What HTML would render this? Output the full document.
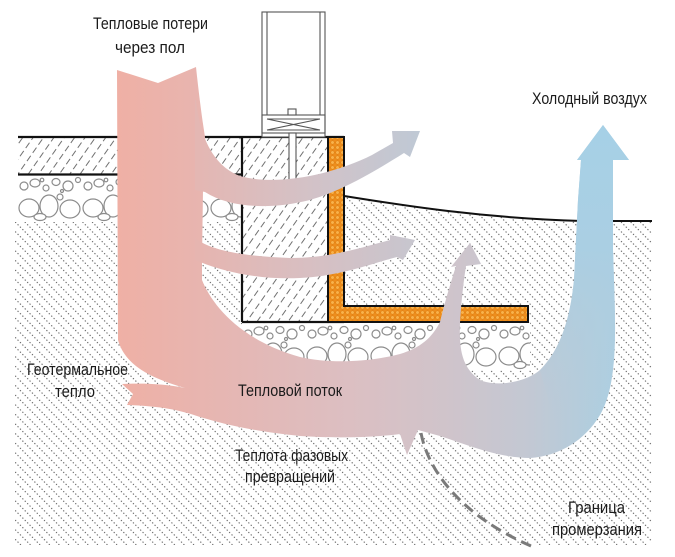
<!DOCTYPE html>
<html><head><meta charset="utf-8"><style>
html,body{margin:0;padding:0;background:#fff;}
svg{display:block;}
</style></head><body>
<svg width="675" height="557" viewBox="0 0 675 557" xmlns="http://www.w3.org/2000/svg">
<defs>
 <pattern id="soil" patternUnits="userSpaceOnUse" width="6.8" height="3.4" patternTransform="rotate(-45)">
   <circle cx="3.4" cy="1.7" r="0.6" fill="#444"/>
 </pattern>
 <pattern id="conc" patternUnits="userSpaceOnUse" width="8.5" height="10" patternTransform="rotate(35)">
   <line x1="4" y1="0" x2="4" y2="6.5" stroke="#707070" stroke-width="1"/>
 </pattern>
 <pattern id="ins" patternUnits="userSpaceOnUse" width="5" height="5">
   <rect width="5" height="5" fill="#ee8e1c"/>
   <circle cx="2.5" cy="2.5" r="1.8" fill="#f9b24a" stroke="#d8780e" stroke-width="0.5"/>
 </pattern>
 <pattern id="st1" patternUnits="userSpaceOnUse" x="18" y="176" width="64" height="46">
  <g stroke="#8c8c8c" stroke-width="1.2" fill="#fff">
   <circle cx="6" cy="10" r="4"/><ellipse cx="17" cy="7" rx="5" ry="4"/><circle cx="28" cy="12" r="3"/>
   <ellipse cx="38" cy="6" rx="4" ry="3.5"/><circle cx="50" cy="10" r="5"/><circle cx="60" cy="4" r="2.5"/>
   <circle cx="24" cy="4" r="1.8"/><circle cx="44" cy="15" r="1.5"/>
   <ellipse cx="11" cy="32" rx="10" ry="9"/><ellipse cx="31" cy="30" rx="9" ry="11"/><ellipse cx="52" cy="33" rx="10" ry="9"/>
   <ellipse cx="22" cy="41" rx="6" ry="3.5"/><circle cx="42" cy="21" r="3"/>
  </g>
 </pattern>
 <pattern id="st2" patternUnits="userSpaceOnUse" x="242" y="324" width="64" height="46">
  <g stroke="#8c8c8c" stroke-width="1.2" fill="#fff">
   <circle cx="6" cy="10" r="4"/><ellipse cx="17" cy="7" rx="5" ry="4"/><circle cx="28" cy="12" r="3"/>
   <ellipse cx="38" cy="6" rx="4" ry="3.5"/><circle cx="50" cy="10" r="5"/><circle cx="60" cy="4" r="2.5"/>
   <circle cx="24" cy="4" r="1.8"/><circle cx="44" cy="15" r="1.5"/>
   <ellipse cx="11" cy="32" rx="10" ry="9"/><ellipse cx="31" cy="30" rx="9" ry="11"/><ellipse cx="52" cy="33" rx="10" ry="9"/>
   <ellipse cx="22" cy="41" rx="6" ry="3.5"/><circle cx="42" cy="21" r="3"/>
  </g>
 </pattern>
 <linearGradient id="gMain" gradientUnits="userSpaceOnUse" x1="118" y1="0" x2="630" y2="0">
  <stop offset="0" stop-color="#efb0a5"/>
  <stop offset="0.2" stop-color="#e6b6b2"/>
  <stop offset="0.45" stop-color="#dcbfc2"/>
  <stop offset="0.65" stop-color="#cfc4cb"/>
  <stop offset="0.8" stop-color="#c3c8d3"/>
  <stop offset="0.92" stop-color="#b2cddd"/>
  <stop offset="1" stop-color="#a7d0e6"/>
 </linearGradient>
 <linearGradient id="gB1" gradientUnits="userSpaceOnUse" x1="200" y1="0" x2="420" y2="0">
  <stop offset="0" stop-color="#e4b7b3"/>
  <stop offset="0.5" stop-color="#d3c2c7"/>
  <stop offset="1" stop-color="#bfc9d5"/>
 </linearGradient>
 <linearGradient id="gB2" gradientUnits="userSpaceOnUse" x1="200" y1="0" x2="415" y2="0">
  <stop offset="0" stop-color="#e6b5b0"/>
  <stop offset="0.5" stop-color="#d8bfc2"/>
  <stop offset="1" stop-color="#c7c6cf"/>
 </linearGradient>
 <linearGradient id="gBlue" gradientUnits="userSpaceOnUse" x1="0" y1="125" x2="0" y2="430">
  <stop offset="0" stop-color="#a6d0e6" stop-opacity="1"/>
  <stop offset="0.4" stop-color="#aacfe3" stop-opacity="1"/>
  <stop offset="1" stop-color="#b8cbd9" stop-opacity="0"/>
 </linearGradient>
</defs>

<rect width="675" height="557" fill="#fff"/>

<!-- soil -->
<path d="M15,222 H345 V196 C400,205 480,218 582,221 H652 V545 H15 Z" fill="url(#soil)"/>

<!-- concrete slab & foundation -->
<rect x="18" y="137" width="224" height="37" fill="#fff"/>
<rect x="18" y="137" width="224" height="37" fill="url(#conc)"/>
<rect x="242" y="137" width="86" height="185" fill="#fff"/>
<rect x="242" y="137" width="86" height="185" fill="url(#conc)"/>

<!-- stones -->
<rect x="18" y="175" width="224" height="47" fill="#fff"/>
<rect x="18" y="175" width="224" height="47" fill="url(#st1)"/>
<rect x="242" y="323" width="288" height="47" fill="#fff"/>
<rect x="242" y="323" width="288" height="47" fill="url(#st2)"/>

<!-- lines -->
<g stroke="#111" stroke-width="2.2" fill="none">
 <line x1="18" y1="137" x2="344" y2="137"/>
 <line x1="18" y1="174.5" x2="242" y2="174.5"/>
 <line x1="242" y1="137" x2="242" y2="322"/>
 <line x1="242" y1="322" x2="344" y2="322"/>
</g>

<!-- insulation -->
<path d="M328,137 H344 V306 H528 V322 H328 Z" fill="url(#ins)" stroke="#111" stroke-width="2"/>

<!-- ground line -->
<path d="M344,196 C400,205 480,218 582,221 H652" fill="none" stroke="#111" stroke-width="2"/>

<!-- post -->
<g stroke="#555" stroke-width="1.1" fill="none">
 <rect x="262" y="12" width="63" height="125" fill="#fff"/>
 <line x1="267" y1="12" x2="267" y2="115"/>
 <line x1="320" y1="12" x2="320" y2="115"/>
 <rect x="262" y="115" width="63" height="18"/>
 <line x1="267" y1="119" x2="320" y2="119"/>
 <line x1="267" y1="130" x2="320" y2="130"/>
 <line x1="267" y1="119" x2="320" y2="130"/>
 <line x1="267" y1="130" x2="320" y2="119"/>
 <rect x="288" y="109" width="8" height="6" fill="#fff"/>
 <rect x="289" y="133" width="7" height="52" fill="#fff"/>
</g>

<!-- freezing boundary -->
<path d="M421,433 C428,470 460,515 531,546" fill="none" stroke="#7a7a7a" stroke-width="3" stroke-dasharray="11 6"/>

<!-- main heat flow -->
<path fill="url(#gMain)" d="M117,70 L158,83 L196,67 C199,95 202,118 205,137 L203,190 L202,260 L202,280
 C212,305 240,340 300,357 C330,364 370,362 400,354 C420,348 432,338 440,322
 C444,305 450,285 456,266 L451,267 L470,243 L481,264 L466,266 C463,285 461,305 460,323
 C459,350 462,368 480,380 C495,387 525,383 540,370 C560,350 570,320 574,280 L578,200 L581,160 L577,160 L603,125 L629,160 L613,160 L613,250
 C615,320 620,380 600,415 C585,440 560,456 530,458 C500,458 470,446 440,436 L418,430 L407,455 L400,434
 C370,438 330,438 300,436 C260,432 230,426 200,417 C180,410 160,406 127,405 L133,394 L122,384
 C145,383 165,384 185,388 C150,378 125,365 118,340 Z"/>

<!-- blue arm overlay -->
<path fill="url(#gBlue)" d="M581,160 L577,160 L603,125 L629,160 L613,160 L613,250 C615,320 620,380 600,415 L560,440 L540,370 C560,350 570,320 574,280 L578,200 Z"/>

<!-- upper branch -->
<path fill="url(#gB1)" d="M196,100 C199,130 210,165 240,176 C275,186 330,176 372,155 L393,143 L392,131 L420,131 L410,157 L404,153 C380,168 345,190 310,200 C270,210 230,208 205,192 L195,190 L195,100 Z"/>

<!-- lower branch -->
<path fill="url(#gB2)" d="M195,238 C210,250 240,256 290,258 C330,258 360,248 390,240 L390,235 L415,240 L403,260 L397,257 C370,264 340,276 300,278 C260,280 225,272 200,262 L195,260 Z"/>

<!-- labels -->
<g font-family="'Liberation Sans', 'Noto Sans CJK SC', sans-serif" font-size="17" fill="#1a1a1a">
 <text x="93" y="29" textLength="115" lengthAdjust="spacingAndGlyphs">Тепловые потери</text>
 <text x="115" y="53" textLength="70" lengthAdjust="spacingAndGlyphs">через пол</text>
 <text x="532" y="104" textLength="115" lengthAdjust="spacingAndGlyphs">Холодный воздух</text>
 <text x="27" y="375" textLength="101" lengthAdjust="spacingAndGlyphs">Геотермальное</text>
 <text x="55" y="397" textLength="40" lengthAdjust="spacingAndGlyphs">тепло</text>
 <text x="238" y="396" textLength="104" lengthAdjust="spacingAndGlyphs">Тепловой поток</text>
 <text x="235" y="461" textLength="113" lengthAdjust="spacingAndGlyphs">Теплота фазовых</text>
 <text x="245" y="482" textLength="90" lengthAdjust="spacingAndGlyphs">превращений</text>
 <text x="568" y="513" textLength="57" lengthAdjust="spacingAndGlyphs">Граница</text>
 <text x="552" y="535" textLength="90" lengthAdjust="spacingAndGlyphs">промерзания</text>
</g>
</svg>
</body></html>
